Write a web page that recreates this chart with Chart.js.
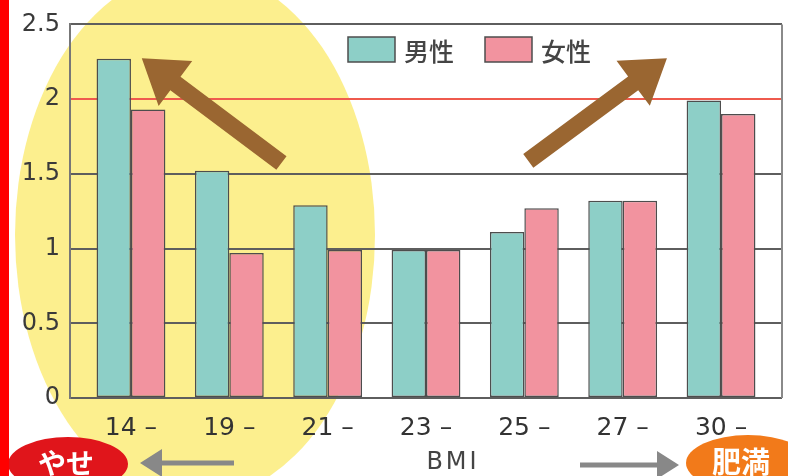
<!DOCTYPE html>
<html>
<head>
<meta charset="utf-8">
<script src="https://cdn.jsdelivr.net/npm/chart.js@4.4.1/dist/chart.umd.min.js"></script>
<style>
  html, body { margin: 0; padding: 0; background: #fff; }
  #c { display: block; }
</style>
</head>
<body>
<canvas id="c" width="788" height="476" style="width:788px;height:476px"></canvas>
<script>
// ---- data ----
const categories = ['14 –', '19 –', '21 –', '23 –', '25 –', '27 –', '30 –'];
const male   = [2.27, 1.52, 1.29, 0.99, 1.11, 1.32, 1.99];
const female = [1.93, 0.97, 0.99, 0.99, 1.27, 1.32, 1.90];
const yTicks = [0, 0.5, 1, 1.5, 2, 2.5];
const seriesNames = ['男性', '女性'];
const axisTitle = 'BMI';
const leftTag = 'やせ';
const rightTag = '肥満';
// arrows in data units: [tailX, tailY, tipX, tipY]
const trendArrows = [[1.53, 1.573, 0.11, 2.273], [4.04, 1.587, 5.45, 2.273]];

const TEAL = '#8dcfc7', PINK = '#f2939f', EDGE = '#4d4d4d';

function drawArrow(ctx, x1, y1, x2, y2, sw, hl, hw, color) {
  const dx = x2 - x1, dy = y2 - y1, L = Math.hypot(dx, dy);
  const ux = dx / L, uy = dy / L, nx = -uy, ny = ux;
  const bx = x2 - ux * hl, by = y2 - uy * hl;
  ctx.beginPath();
  ctx.moveTo(x1 + nx * sw / 2, y1 + ny * sw / 2);
  ctx.lineTo(bx + nx * sw / 2, by + ny * sw / 2);
  ctx.lineTo(bx + nx * hw / 2, by + ny * hw / 2);
  ctx.lineTo(x2, y2);
  ctx.lineTo(bx - nx * hw / 2, by - ny * hw / 2);
  ctx.lineTo(bx - nx * sw / 2, by - ny * sw / 2);
  ctx.lineTo(x1 - nx * sw / 2, y1 - ny * sw / 2);
  ctx.closePath();
  ctx.fillStyle = color;
  ctx.fill();
}

const deco = {
  id: 'deco',
  beforeDraw(chart) {
    const ctx = chart.ctx;
    ctx.save();
    ctx.fillStyle = '#ffffff';
    ctx.fillRect(0, 0, chart.width, chart.height);
    ctx.beginPath();
    ctx.ellipse(195, 235, 180, 265, 0, 0, Math.PI * 2);
    ctx.fillStyle = '#fcef8e';
    ctx.fill();
    ctx.restore();
  },
  afterDraw(chart) {
    const ctx = chart.ctx, a = chart.chartArea;
    const xs = chart.scales.x, ys = chart.scales.y;
    ctx.save();
    // right border
    ctx.strokeStyle = '#8a8a8a';
    ctx.lineWidth = 2;
    ctx.beginPath();
    ctx.moveTo(a.right, a.top);
    ctx.lineTo(a.right, a.bottom);
    ctx.stroke();
    // brown trend arrows
    trendArrows.forEach(t => {
      drawArrow(ctx, xs.getPixelForValue(t[0]), ys.getPixelForValue(t[1]),
        xs.getPixelForValue(t[2]), ys.getPixelForValue(t[3]), 17, 42, 56, '#9a6631');
    });
    // legend
    const cols = [TEAL, PINK];
    const lx = [348, 485];
    ctx.font = '500 25px "Noto Sans CJK JP"';
    ctx.textBaseline = 'middle';
    ctx.textAlign = 'left';
    chart.data.datasets.forEach((ds, i) => {
      ctx.fillStyle = cols[i];
      ctx.fillRect(lx[i], 37, 47, 25);
      ctx.strokeStyle = EDGE;
      ctx.lineWidth = 1.5;
      ctx.strokeRect(lx[i], 37, 47, 25);
      ctx.fillStyle = '#444';
      ctx.fillText(ds.label, lx[i] + 56, 51);
    });
    // bottom annotations
    drawArrow(ctx, 234, 463, 140, 463, 5, 22, 28, '#888888');
    drawArrow(ctx, 580, 465, 679, 465, 5, 22, 28, '#888888');
    ctx.fillStyle = '#444';
    ctx.font = '24px "DejaVu Sans"';
    ctx.textAlign = 'center';
    try { ctx.letterSpacing = '3px'; } catch (e) {}
    ctx.fillText(axisTitle, 453, 463);
    try { ctx.letterSpacing = '0px'; } catch (e) {}
    // やせ pill
    ctx.beginPath();
    ctx.ellipse(68, 464, 60, 27, 0, 0, Math.PI * 2);
    ctx.fillStyle = '#e0151b';
    ctx.fill();
    ctx.fillStyle = '#ffffff';
    ctx.font = 'bold 28px "Noto Sans CJK JP"';
    ctx.textAlign = 'center';
    ctx.fillText(leftTag, 66, 463);
    // 肥満 pill
    ctx.beginPath();
    ctx.ellipse(748, 463, 62, 28, 0, 0, Math.PI * 2);
    ctx.fillStyle = '#f27a1a';
    ctx.fill();
    ctx.fillStyle = '#ffffff';
    ctx.textAlign = 'left';
    ctx.font = 'bold 29px "Noto Sans CJK JP"';
    ctx.fillText(rightTag, 712, 462);
    // red strip on the left
    ctx.fillStyle = '#ff0000';
    ctx.fillRect(0, 0, 9, chart.height);
    ctx.restore();
  }
};

new Chart(document.getElementById('c'), {
  type: 'bar',
  data: {
    datasets: [
      { label: seriesNames[0], data: male.map((v, i) => ({ x: i, y: v })),
        backgroundColor: TEAL, borderColor: EDGE, borderWidth: 1.5, borderSkipped: false },
      { label: seriesNames[1], data: female.map((v, i) => ({ x: i, y: v })),
        backgroundColor: PINK, borderColor: EDGE, borderWidth: 1.5, borderSkipped: false }
    ]
  },
  options: {
    responsive: false,
    animation: false,
    devicePixelRatio: 1,
    categoryPercentage: 0.70,
    barPercentage: 1.0,
    layout: { padding: { left: 0, right: 6, top: 23, bottom: 0 } },
    plugins: { legend: { display: false }, tooltip: { enabled: false } },
    scales: {
      x: {
        type: 'linear',
        offset: false,
        min: -0.62, max: 6.62,
        afterBuildTicks: s => { s.ticks = categories.map((_, i) => ({ value: i })); },
        afterFit: s => { s.height = 78; },
        grid: { display: false, offset: false },
        border: { display: false },
        ticks: {
          callback: v => categories[v] ?? '',
          font: { family: 'DejaVu Sans', size: 25 },
          color: '#333',
          padding: 7,
          maxRotation: 0,
          autoSkip: false
        }
      },
      y: {
        min: 0, max: 2.5,
        z: 1,
        afterBuildTicks: s => { s.ticks = yTicks.map(v => ({ value: v })); },
        afterFit: s => { s.width = 70; },
        grid: {
          color: c => (c.tick && c.tick.value === 2) ? '#ef5a4e' : '#5e5e5e',
          lineWidth: 2,
          drawTicks: false
        },
        border: { color: '#777', width: 2 },
        ticks: {
          callback: v => String(v),
          font: { family: 'DejaVu Sans', size: 24 },
          color: '#3a3a3a',
          padding: 10
        }
      }
    }
  },
  plugins: [deco]
});
</script>
</body>
</html>
